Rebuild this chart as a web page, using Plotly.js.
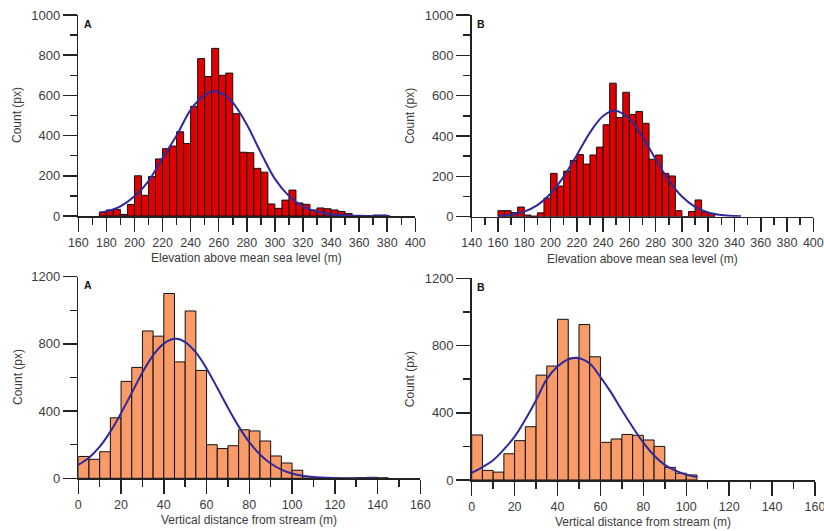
<!DOCTYPE html>
<html>
<head>
<meta charset="utf-8">
<script src="https://cdn.plot.ly/plotly-3.0.1.min.js"></script>
<style>html,body{margin:0;padding:0;background:#fff;}#chart{width:824px;height:531px;}</style>
</head>
<body>
<div id="chart"></div>
<script>
// ---- Data ----
// Panel A (top-left): elevation histogram, bin left edges (m) and counts (px)
const elevA_bins = [175,180,185,190,195,200,205,210,215,220,225,230,235,240,245,250,255,260,265,270,275,280,285,290,295,300,305,310,315,320,325,330,335,340,345,350,355,360,365,370,375];
const elevA_counts = [20,30,33,8,57,200,103,196,284,335,348,419,361,546,783,694,834,700,711,509,317,315,237,218,60,38,79,129,65,58,30,40,36,30,23,12,0,0,0,5,5];
const elevA_fitX = [176,180,190,200,210,220,230,240,250,257,265,270,280,290,300,310,320,330,340,350,360,370,382];
const elevA_fitY = [18,23,48,98,174,288,400,528,603,621,597,565,455,315,185,100,48,22,9,4,1.5,0.5,0];

// Panel B (top-right)
const elevB_bins = [160,165,170,175,180,185,190,195,200,205,210,215,220,225,230,235,240,245,250,255,260,265,270,275,280,285,290,295,300,305,310,315,320];
const elevB_counts = [30,30,20,48,8,3,19,92,215,152,226,279,308,261,306,345,456,662,492,617,507,522,463,285,306,215,202,30,0,26,83,23,16];
const elevB_fitX = [160,170,180,190,200,210,220,230,240,249,260,270,280,290,300,310,320,330,340,345];
const elevB_fitY = [3,10,25,57,114,199,305,417,499,525,486,396,286,180,100,49,21,8,3,2];

// Panel A (bottom-left): vertical distance from stream
const distA_bins = [0,5,10,15,20,25,30,35,40,45,50,55,60,65,70,75,80,85,90,95,100,105,110,115,120,125,130,135,140];
const distA_counts = [130,113,158,360,577,660,877,846,1100,693,996,642,200,177,194,289,282,222,133,91,48,10,4,0,0,0,4,6,3];
const distA_fitX = [0,5,10,15,20,25,30,35,40,45.5,50,55,60,65,70,75,80,85,90,95,100,105,110,120,130,140];
const distA_fitY = [80,122,188,278,388,508,630,732,802,830,811,749,654,539,420,309,215,142,88,52,29,15,7,2,0.5,0];

// Panel B (bottom-right)
const distB_bins = [0,5,10,15,20,25,30,35,40,45,50,55,60,65,70,75,80,85,90,95,100];
const distB_counts = [268,57,47,156,234,317,624,678,956,725,925,733,224,244,271,266,238,200,75,40,30];
const distB_fitX = [0,5,10,15,20,25,30,35,40,45,49,55,60,65,70,75,80,85,90,95,100,105];
const distB_fitY = [42,77,118,182,258,360,475,600,675,718,727,693,612,520,415,315,222,146,90,56,32,18];

const panelLetters = ['A','B','A','B'];
const xTitles = ['Elevation above mean sea level (m)','Elevation above mean sea level (m)','Vertical distance from stream (m)','Vertical distance from stream (m)'];
const yTitle = 'Count (px)';

// ---- Styling ----
const W = 824, H = 531;
const topRed = '#e00000', botOrange = '#f99b69', fitBlue = '#2e2a9c';
const txt = '#3c3c3c', axc = '#222222';
const FONT = 'Liberation Sans, Arial, sans-serif';

function px2fx(p){return p/W;}
function px2fy(p){return 1 - p/H;}

// pixel geometry of each panel: [x0px, x1px, yTopPx, yZeroPx]
const geo = [
  [78.3, 415.3, 15, 216],
  [471.7, 813.3, 15, 216.7],
  [78.3, 420.3, 276.7, 478.3],
  [471.7, 815, 278.3, 480]
];

const traces = [];
function addPanel(i, bins, counts, fx, fy, color){
  const ax = i===0 ? '' : String(i+1);
  traces.push({type:'bar', x:bins, y:counts, width:5, offset:0,
    xaxis:'x'+ax, yaxis:'y'+ax,
    marker:{color:color, line:{color:'#111', width:1}}, hoverinfo:'x+y'});
  traces.push({type:'scatter', mode:'lines', x:fx, y:fy, xaxis:'x'+ax, yaxis:'y'+ax,
    line:{color:fitBlue, width:2, shape:'spline', smoothing:1}});
}
addPanel(0, elevA_bins, elevA_counts, elevA_fitX, elevA_fitY, topRed);
addPanel(1, elevB_bins, elevB_counts, elevB_fitX, elevB_fitY, topRed);
addPanel(2, distA_bins, distA_counts, distA_fitX, distA_fitY, botOrange);
addPanel(3, distB_bins, distB_counts, distB_fitX, distB_fitY, botOrange);

const xRanges = [[160,400],[140,400],[0,160],[0,160]];
const xTick0 = [160,140,0,0];
const yRanges = [[0,1000],[0,1000],[0,1200],[0,1200]];
const yDtick = [200,200,400,400];

const layout = {
  width:W, height:H, margin:{l:0,r:0,t:0,b:0},
  paper_bgcolor:'#fff', plot_bgcolor:'rgba(0,0,0,0)',
  showlegend:false, bargap:0,
  font:{family:FONT, color:txt, size:12},
  annotations:[]
};
for(let i=0;i<4;i++){
  const g = geo[i];
  const ax = i===0 ? '' : String(i+1);
  layout['xaxis'+ax] = {
    domain:[px2fx(g[0]), px2fx(g[1])], anchor:'y'+ax, range:xRanges[i],
    tick0:xTick0[i], dtick:20, ticks:'outside', ticklen:14, tickwidth:1.5, tickcolor:axc,
    minor:{dtick:10, tick0:xTick0[i], ticks:'outside', ticklen:7, tickwidth:1.5, tickcolor:axc},
    showline:true, linecolor:axc, linewidth:1.5, showgrid:false, zeroline:false,
    tickfont:{family:FONT, size:12.5, color:txt}, ticklabelstandoff:0,
    ticklabeloverflow:'allow', fixedrange:true
  };
  layout['yaxis'+ax] = {
    domain:[px2fy(g[3]), px2fy(g[2])], anchor:'x'+ax, range:yRanges[i],
    dtick:yDtick[i], ticks:'outside', ticklen:14, tickwidth:1.5, tickcolor:axc,
    minor:{dtick:yDtick[i]/2, ticks:'outside', ticklen:7, tickwidth:1.5, tickcolor:axc},
    showline:true, linecolor:axc, linewidth:1.5, showgrid:false, zeroline:false,
    tickfont:{family:FONT, size:13, color:txt}, ticklabeloverflow:'allow', fixedrange:true
  };
  // panel letter
  layout.annotations.push({xref:'paper', yref:'paper', x:px2fx(g[0]+3.5), y:px2fy(g[2]+8.5),
    xanchor:'left', yanchor:'middle', text:'<b>'+panelLetters[i]+'</b>', showarrow:false,
    font:{family:FONT, size:10.5, color:'#111'}});
  // x title
  layout.annotations.push({xref:'paper', yref:'paper', x:px2fx((g[0]+g[1])/2), y:px2fy(g[3]+42),
    xanchor:'center', yanchor:'middle', text:xTitles[i], showarrow:false,
    font:{family:FONT, size:12, color:txt}});
  // y title
  layout.annotations.push({xref:'paper', yref:'paper', x:px2fx(i%2===0?17.5:410), y:px2fy((g[2]+g[3])/2),
    xanchor:'center', yanchor:'middle', text:yTitle, textangle:-90, showarrow:false,
    font:{family:FONT, size:12, color:txt}});
}
Plotly.newPlot('chart', traces, layout, {displayModeBar:false, staticPlot:true});
</script>
</body>
</html>
